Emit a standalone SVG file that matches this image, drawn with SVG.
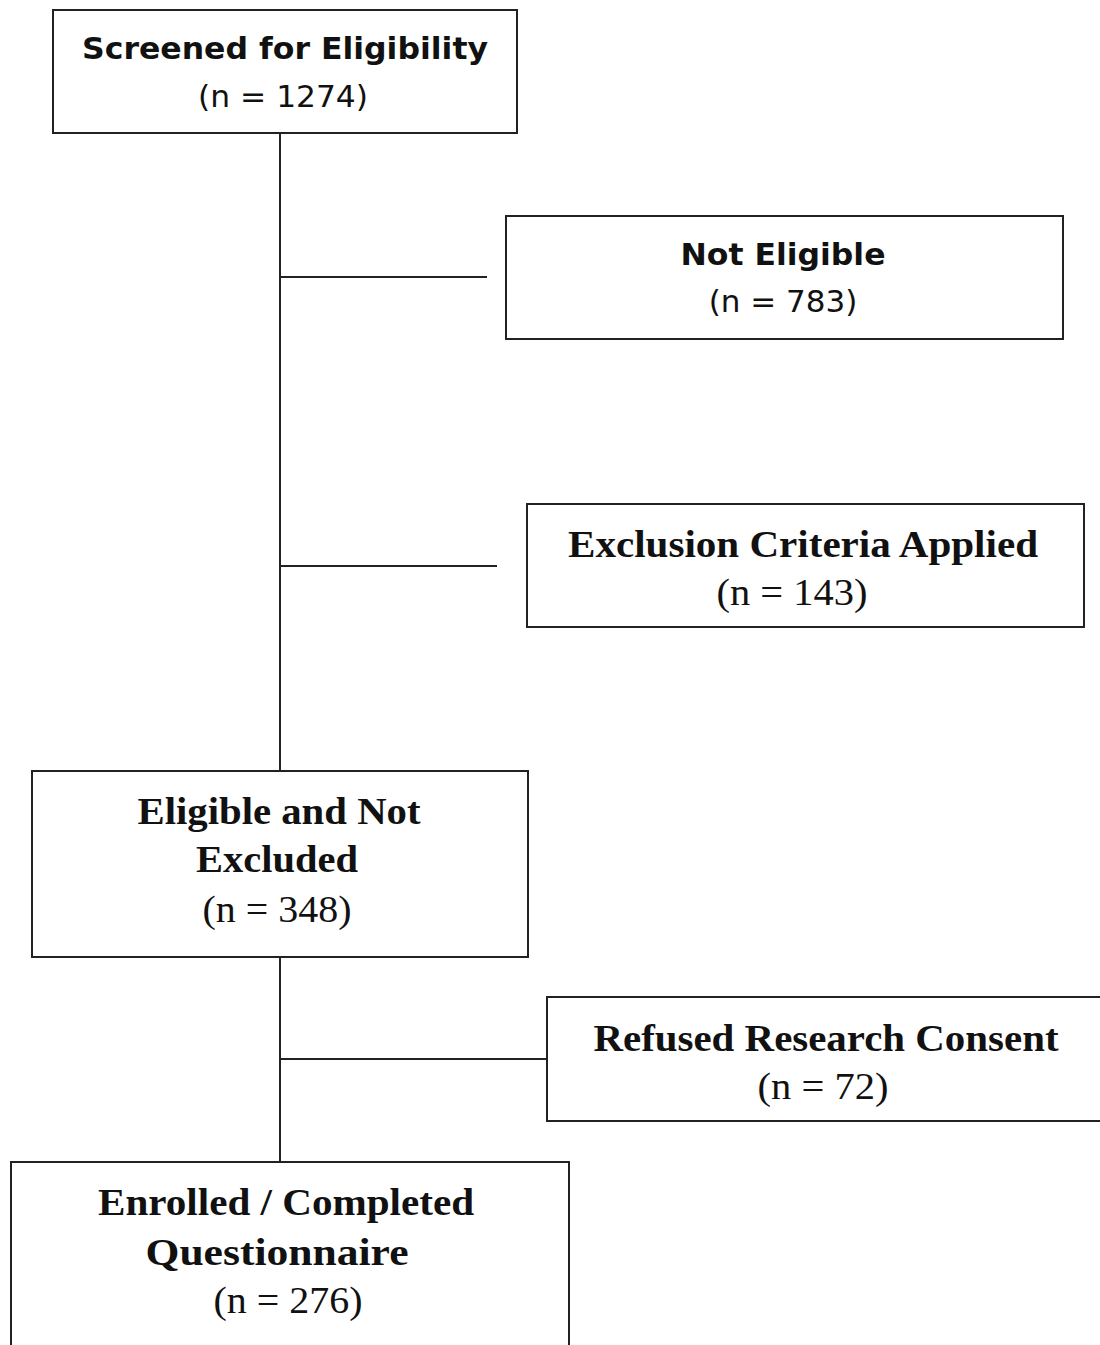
<svg xmlns="http://www.w3.org/2000/svg" width="1100" height="1345" viewBox="0 0 1100 1345">
<style>
.box{fill:#fff;stroke:#222;stroke-width:2}
.ln{stroke:#222;stroke-width:2;fill:none}
.sb{font-family:"DejaVu Sans","Liberation Sans",sans-serif;font-weight:bold;font-size:31px;fill:#111;text-anchor:middle}
.sr{font-family:"DejaVu Sans","Liberation Sans",sans-serif;font-size:31px;fill:#111;text-anchor:middle}
.fb{font-family:"Liberation Serif","DejaVu Serif",serif;font-weight:bold;font-size:38px;fill:#111;text-anchor:middle}
.fr{font-family:"Liberation Serif","DejaVu Serif",serif;font-size:38px;fill:#111;text-anchor:middle}
</style>
<rect width="1100" height="1345" fill="#fff"/>
<g id="connectors">
<line class="ln" x1="280" y1="133" x2="280" y2="771"/>
<line class="ln" x1="280" y1="277" x2="487" y2="277"/>
<line class="ln" x1="280" y1="566" x2="497" y2="566"/>
<line class="ln" x1="280" y1="957" x2="280" y2="1162"/>
<line class="ln" x1="280" y1="1059" x2="547" y2="1059"/>
</g>
<g id="screened">
<rect class="box" x="53" y="10" width="464" height="123"/>
<text class="sb" x="285" y="59" textLength="406" lengthAdjust="spacingAndGlyphs">Screened for Eligibility</text>
<text class="sr" x="283" y="107" textLength="170" lengthAdjust="spacingAndGlyphs">(n = 1274)</text>
</g>
<g id="not-eligible">
<rect class="box" x="506" y="216" width="557" height="123"/>
<text class="sb" x="783" y="265" textLength="205" lengthAdjust="spacingAndGlyphs">Not Eligible</text>
<text class="sr" x="783" y="312">(n = 783)</text>
</g>
<g id="exclusion">
<rect class="box" x="527" y="504" width="557" height="123"/>
<text class="fb" x="803" y="557" textLength="470" lengthAdjust="spacingAndGlyphs">Exclusion Criteria Applied</text>
<text class="fr" x="792" y="605" textLength="151" lengthAdjust="spacingAndGlyphs">(n = 143)</text>
</g>
<g id="eligible">
<rect class="box" x="32" y="771" width="496" height="186"/>
<text class="fb" x="279" y="824" textLength="283" lengthAdjust="spacingAndGlyphs">Eligible and Not</text>
<text class="fb" x="277" y="872" textLength="162" lengthAdjust="spacingAndGlyphs">Excluded</text>
<text class="fr" x="277" y="922" textLength="149" lengthAdjust="spacingAndGlyphs">(n = 348)</text>
</g>
<g id="refused">
<rect class="box" x="547" y="997" width="560" height="124"/>
<text class="fb" x="826" y="1051" textLength="465" lengthAdjust="spacingAndGlyphs">Refused Research Consent</text>
<text class="fr" x="823" y="1099" textLength="131" lengthAdjust="spacingAndGlyphs">(n = 72)</text>
</g>
<g id="enrolled">
<rect class="box" x="11" y="1162" width="558" height="190"/>
<text class="fb" x="286" y="1215" textLength="376" lengthAdjust="spacingAndGlyphs">Enrolled / Completed</text>
<text class="fb" x="277" y="1265" textLength="263" lengthAdjust="spacingAndGlyphs">Questionnaire</text>
<text class="fr" x="288" y="1313" textLength="149" lengthAdjust="spacingAndGlyphs">(n = 276)</text>
</g>
</svg>
